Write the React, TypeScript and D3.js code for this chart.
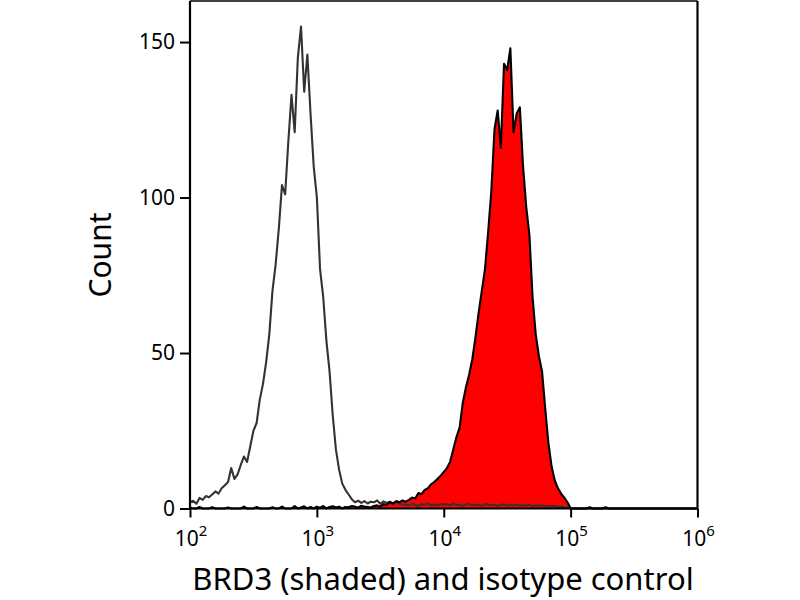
import * as d3 from "d3";
import { useEffect, useRef } from "react";

// histogram bins: centre of bin i sits at 10^(binStart + i*binStep)
const binStart = 2;
const binStep = 0.025;

// isotype control (grey, unfilled)
const isotypeCounts = [
  2, 2.5, 1.5, 3.4, 2.8, 4, 3.6, 4.5, 5.5, 4.8,
  6.5, 7.5, 8.5, 13, 9.5, 11, 14, 16.7, 15, 20,
  25, 27.5, 35, 40, 47, 56, 70, 78.5, 90, 104,
  101, 118, 133, 121, 145, 155, 134, 146, 127, 110,
  100, 77, 68, 54, 44, 30, 19, 12.5, 8, 6,
  4.5, 3, 2, 2.5, 1.8, 2.4, 1.6, 2.2, 2, 2.6,
  1.5, 2.3, 1.8, 2.2, 1.4, 2.1, 1.6, 1.2, 1.3, 0.9,
  1.5, 1.1, 0.8, 1.4, 1.2, 1.6, 1.0, 1.3, 0.9, 1.5,
  1.2, 1.4, 1.0, 1.6, 1.1, 1.3, 0.8, 1.2, 1.5, 1.0,
  1.3, 1.1, 0.9, 1.4, 1.2, 1.0, 1.3, 0.8, 1.1, 1.4,
  0.9, 1.2, 1.0, 1.3, 0.8, 1.1, 0.9, 1.2, 0.7, 1.0,
  0.8, 1.1, 0.6, 0.9, 0.7, 0.8, 0.5, 0.6, 0.4, 0.3,
  0,
];

// BRD3 stained sample (red, shaded)
const brd3Counts = [
  0.3, 0, 0, 0.5, 0, 0, 0, 0.4, 0, 0,
  0, 0, 0.3, 0, 0, 0, 0, 0.6, 0, 0,
  0, 0.5, 0, 0, 0, 0, 0.4, 0, 0, 0.6,
  0, 0, 0, 0.8, 0, 0.3, 0.7, 0, 0.5, 0,
  0.6, 0.2, 0.8, 0, 0.5, 0.7, 0.3, 0.6, 0, 0.5,
  0.4, 0.8, 0.6, 0.3, 0.9, 0.6, 0.5, 0.3, 0.8, 1,
  0.6, 1.4, 1.2, 2, 1.6, 2.4, 2, 2.6, 2.2, 2.8,
  3.5, 3.2, 5, 4.6, 6, 6.5, 7.8, 8.5, 9.5, 10.5,
  11.8, 13, 15, 19, 23, 26, 34, 39, 43, 48,
  55, 63, 70, 77, 89, 102, 122, 128, 116, 143,
  141, 148, 121, 127, 129, 110, 97, 88, 68, 56,
  49, 44, 32, 21, 13.5, 9, 6.5, 4.8, 3.5, 2,
  0, 0, 0, 0, 0, 0, 0.4, 0, 0, 0,
  0, 0.4, 0, 0, 0,
];

const yMajor = [0, 50, 100, 150];
const yMinor = [10, 20, 30, 40, 60, 70, 80, 90, 110, 120, 130, 140, 160];
const xDecades = [2, 3, 4, 5, 6];
const xTitle = "BRD3 (shaded) and isotype control";
const yTitle = "Count";

function FlowHistogram() {
  const ref = useRef<SVGSVGElement | null>(null);

  useEffect(() => {
    const svg = d3.select(ref.current);
    svg.selectAll("*").remove();

    const left = 190, right = 697.5, top = 1, bottom = 508.5;
    const x = d3.scaleLog().domain([1e2, 1e6]).range([left, right]);
    const y = d3.scaleLinear().domain([0, 163.2]).range([bottom, top]);

    const toPoints = (counts: number[]) => {
      const pts: [number, number][] = counts.map((c, i) => [Math.pow(10, binStart + i * binStep), c]);
      pts.push([x.domain()[1], 0]);
      return pts;
    };
    const iso = toPoints(isotypeCounts);
    const brd = toPoints(brd3Counts);

    const line = d3.line<[number, number]>()
      .x((d) => x(d[0]))
      .y((d) => y(d[1]));
    const area = d3.area<[number, number]>()
      .x((d) => x(d[0]))
      .y0(y(0))
      .y1((d) => y(d[1]));

    // red fill
    svg.append("path").attr("d", area(brd)).attr("fill", "#ff0000");

    // frame (top + right)
    svg.append("line").attr("x1", left).attr("x2", right).attr("y1", top).attr("y2", top)
      .attr("stroke", "#000").attr("stroke-width", 1.5);
    svg.append("line").attr("x1", right).attr("x2", right).attr("y1", top).attr("y2", bottom)
      .attr("stroke", "#000").attr("stroke-width", 2.2);

    // axes
    const font = "'Noto Sans', sans-serif";
    const gy = svg.append("g").attr("transform", `translate(${left},0)`);
    gy.call(d3.axisLeft(y).tickValues(yMinor).tickSize(5).tickFormat(() => ""));
    gy.call(d3.axisLeft(y).tickValues(yMajor).tickSize(10).tickPadding(5).tickFormat(d3.format("d")));
    gy.selectAll("path.domain").remove();
    gy.selectAll("line").attr("stroke", "#000").attr("stroke-width", 2);
    gy.selectAll("text").attr("font-family", font).attr("font-size", 21).attr("fill", "#000");

    const minorX: number[] = [];
    xDecades.slice(0, -1).forEach((e) => {
      for (let k = 2; k < 10; k++) minorX.push(k * Math.pow(10, e));
    });
    const gx = svg.append("g").attr("transform", `translate(0,${bottom})`);
    gx.call(d3.axisBottom(x).tickValues(minorX).tickSize(5).tickFormat(() => ""));
    gx.call(d3.axisBottom(x).tickValues(xDecades.map((e) => Math.pow(10, e))).tickSize(9).tickFormat(() => ""));
    gx.selectAll("path.domain").remove();
    gx.selectAll("line").attr("stroke", "#000").attr("stroke-width", 2);

    const xl = svg.append("g").selectAll("text").data(xDecades).join("text")
      .attr("x", (d) => x(Math.pow(10, d)) + 1)
      .attr("y", 546)
      .attr("text-anchor", "middle")
      .attr("font-family", font)
      .attr("font-size", 21)
      .attr("fill", "#000");
    xl.append("tspan").text("10");
    xl.append("tspan").attr("dy", -10).attr("font-size", 15).text((d) => String(d));

    // histograms
    svg.append("path").attr("d", line(iso)).attr("fill", "none")
      .attr("stroke", "#333").attr("stroke-width", 2.1).attr("stroke-linejoin", "round");
    svg.append("path").attr("d", line(brd)).attr("fill", "none")
      .attr("stroke", "#000").attr("stroke-width", 2.1).attr("stroke-linejoin", "round");

    // axis lines on top
    svg.append("line").attr("x1", left).attr("x2", left).attr("y1", top).attr("y2", bottom + 1)
      .attr("stroke", "#000").attr("stroke-width", 2.2);
    svg.append("line").attr("x1", left).attr("x2", right).attr("y1", bottom).attr("y2", bottom)
      .attr("stroke", "#000").attr("stroke-width", 2.2);

    // titles
    svg.append("text").attr("x", 443).attr("y", 590).attr("text-anchor", "middle")
      .attr("font-family", font).attr("font-size", 31).attr("fill", "#000").text(xTitle);
    svg.append("text").attr("transform", "translate(111,255) rotate(-90)").attr("text-anchor", "middle")
      .attr("font-family", font).attr("font-size", 30).attr("fill", "#000").text(yTitle);
  }, []);

  return <svg ref={ref} width={800} height={600} style={{ position: "absolute", left: 0, top: 0, background: "#fff" }}></svg>;
}

export default function App() {
  return <FlowHistogram />;
}
